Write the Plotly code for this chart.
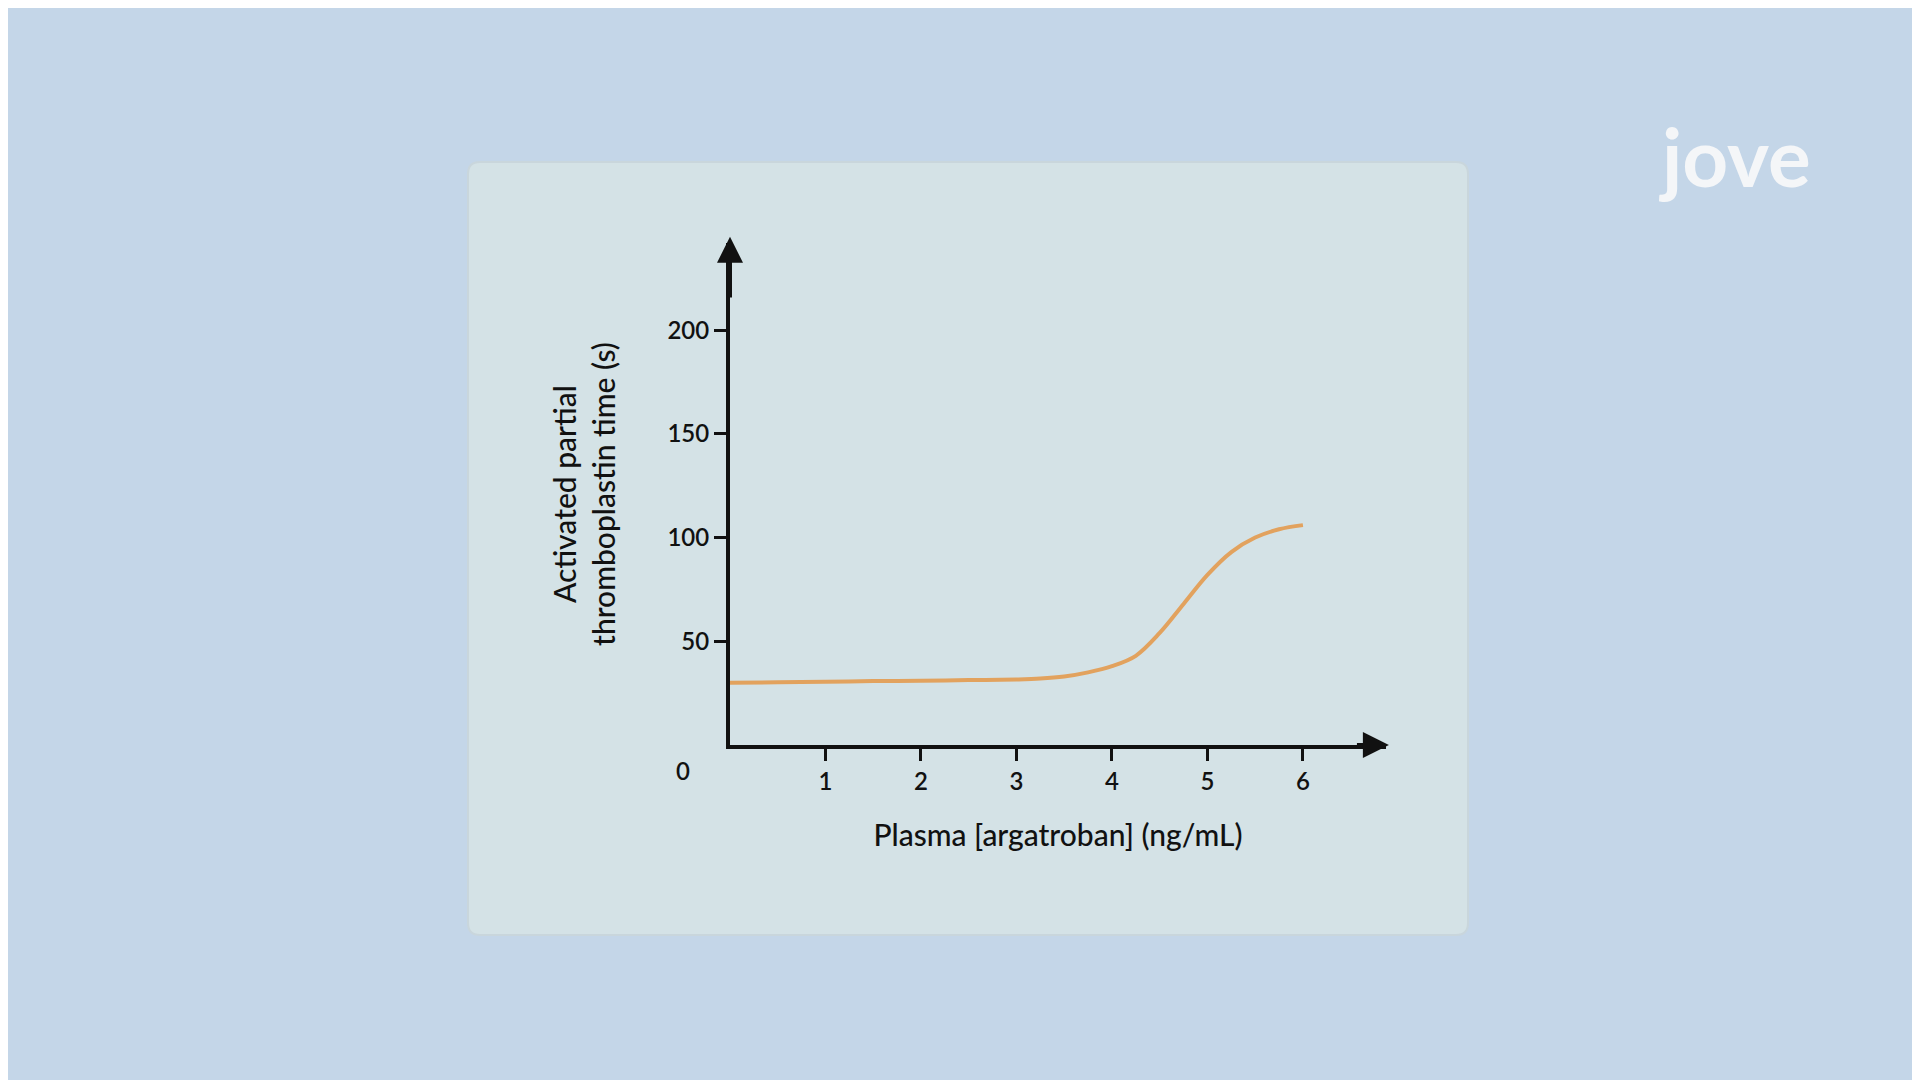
import plotly.graph_objects as go

conc = [0, 0.5, 1, 1.5, 2, 2.5, 3, 3.25, 3.5, 3.75, 4, 4.25, 4.5, 4.75, 5, 5.25, 5.5, 5.75, 6]
aptt = [30, 30.2, 30.5, 30.8, 31, 31.3, 31.6, 32, 33, 35, 38, 43, 54, 68, 82, 93, 100, 104, 106]
x_ticks = [1, 2, 3, 4, 5, 6]
y_ticks = [50, 100, 150, 200]

fig = go.Figure()
fig.add_trace(go.Scatter(x=conc, y=aptt, mode="lines", line=dict(color="#e2a25e", width=4, shape="spline"),
                         hoverinfo="skip", showlegend=False))

ax_font = dict(family="Lato, Open Sans, sans-serif", size=24, color="#111", weight=600)
title_font = dict(family="Lato, Open Sans, sans-serif", size=30, color="#111", weight=500)

# rounded card
x0, x1 = 460/1920, 1460/1920
y0, y1 = 1-927/1080, 1-154/1080
rx, ry = 12/1920, 12/1080
card = (f"M {x0+rx},{y0} L {x1-rx},{y0} Q {x1},{y0} {x1},{y0+ry} L {x1},{y1-ry} Q {x1},{y1} {x1-rx},{y1} "
        f"L {x0+rx},{y1} Q {x0},{y1} {x0},{y1-ry} L {x0},{y0+ry} Q {x0},{y0} {x0+rx},{y0} Z")

fig.update_layout(
    width=1920, height=1080, margin=dict(l=0, r=0, t=0, b=0),
    paper_bgcolor="#c4d6e8", plot_bgcolor="rgba(0,0,0,0)",
    xaxis=dict(domain=[722/1920, 1378/1920], range=[0, 6.87], showgrid=False, zeroline=False,
               showline=True, linecolor="#111", linewidth=4, tickvals=x_ticks, ticks="outside",
               ticklen=12, tickwidth=3, tickcolor="#111", tickfont=ax_font,
               title=dict(text="Plasma [argatroban] (ng/mL)", font=title_font, standoff=32)),
    yaxis=dict(domain=[1-737/1080, 1-235/1080], range=[0, 242], showgrid=False, zeroline=False,
               showline=True, linecolor="#111", linewidth=4, tickvals=y_ticks, ticks="outside",
               ticklen=12, tickwidth=3, tickcolor="#111", tickfont=ax_font,
               title=dict(text="Activated partial<br>thromboplastin time (s)", font=title_font, standoff=44)),
    shapes=[dict(type="path", xref="paper", yref="paper", path=card,
                 fillcolor="#d4e2e6", line=dict(color="#c9d6dc", width=2), layer="below")],
)
fig.add_annotation(x=6.9, y=0, ax=6.55, ay=0, xref="x", yref="y", axref="x", ayref="y", text="",
                   showarrow=True, arrowhead=2, arrowsize=1.3, arrowwidth=4, arrowcolor="#111")
fig.add_annotation(x=0, y=245, ax=0, ay=215, xref="x", yref="y", axref="x", ayref="y", text="",
                   showarrow=True, arrowhead=2, arrowsize=1.3, arrowwidth=4, arrowcolor="#111")
fig.add_annotation(x=675/1920, y=1-779/1080, xref="paper", yref="paper", text="0", showarrow=False, font=ax_font)
fig.add_annotation(x=1805/1920, y=1-98/1080, xref="paper", yref="paper", text="<b>jove</b>", showarrow=False,
                   font=dict(family="Lato, sans-serif", size=80, color="#f4f6f8"))

fig.write_html("out.html")
